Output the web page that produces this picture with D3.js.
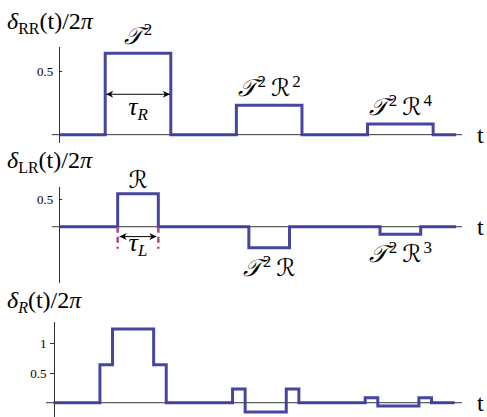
<!DOCTYPE html>
<html lang="en">
<head>
<meta charset="utf-8">
<title>Phase shifts</title>
<script src="https://d3js.org/d3.v7.min.js"></script>
<style>
body { margin: 0; background: #fff; }
text { font-family: "Liberation Serif", "Times New Roman", serif; fill: #000; }
.axis path, .axis line { stroke: #000; stroke-width: 0.8; shape-rendering: crispEdges; }
.axis text { font-size: 13px; font-family: "Liberation Serif", serif; }
.scr { font-family: "DejaVu Serif", "DejaVu Sans", serif; font-style: italic; }
</style>
</head>
<body>
<script>
// step breakpoints (t) and the level that starts at each one
var rrTimes  = [0, 0.7, 1.7, 2.7, 3.7, 4.7, 5.7, 6.05];
var rrValues = [0, 0.64, 0, 0.2304, 0, 0.0829, 0, 0];
var lrTimes  = [0, 0.89, 1.51, 2.89, 3.51, 4.89, 5.51, 6.05];
var lrValues = [0, 0.6, 0, -0.384, 0, -0.138, 0, 0];
var rTimes   = [0, 0.7, 0.89, 1.51, 1.7, 2.7, 2.89, 3.51, 3.7, 4.7, 4.89, 5.51, 5.7, 6.05];
var rValues  = [0, 0.64, 1.24, 0.64, 0, 0.23, -0.154, 0.23, 0, 0.083, -0.055, 0.083, 0, 0];

var rrTicks = [0.5];
var lrTicks = [0.5];
var rTicks  = [0.5, 1];

// pulse labels: t at centre, level, text parts [script, sup] ...
var rrLabels = [
  { t: 1.2, v: 0.64,   parts: [["𝒯", "2"]] },
  { t: 3.2, v: 0.2304, parts: [["𝒯", "2"], ["ℛ", "2"]] },
  { t: 5.2, v: 0.0829, parts: [["𝒯", "2"], ["ℛ", "4"]] }
];
var lrLabels = [
  { t: 1.2, v: 0.6,    parts: [["ℛ", ""]] },
  { t: 3.2, v: -0.384, parts: [["𝒯", "2"], ["ℛ", ""]] },
  { t: 5.2, v: -0.138, parts: [["𝒯", "2"], ["ℛ", "3"]] }
];

var pulseColor = "#3c3c9c";
var dashColor = "#b0457e";

var svg = d3.select("body").append("svg")
  .attr("width", 487)
  .attr("height", 417);

var defs = svg.append("defs");
["arrEnd", "arrStart"].forEach(function(id, i) {
  defs.append("marker")
    .attr("id", id)
    .attr("viewBox", "0 0 10 10")
    .attr("refX", i == 0 ? 10 : 0)
    .attr("refY", 5)
    .attr("markerWidth", 11)
    .attr("markerHeight", 7)
    .attr("markerUnits", "userSpaceOnUse")
    .attr("orient", "auto")
    .append("path")
    .attr("d", i == 0 ? "M0,0 L10,5 L0,10 L3,5 Z" : "M10,0 L0,5 L10,10 L7,5 Z")
    .attr("fill", "#000");
});

var panels = [
  { times: rrTimes, values: rrValues, ticks: rrTicks, labels: rrLabels,
    x: d3.scaleLinear().domain([0, 6.14]).range([59.3, 462]),
    y: d3.scaleLinear().domain([-0.06, 0.69]).range([142.3, 46.8]),
    tickIn: true, titleY: 29, sub: "RR", subItalic: false, labelGap: -9 },
  { times: lrTimes, values: lrValues, ticks: lrTicks, labels: lrLabels,
    x: d3.scaleLinear().domain([0, 6.14]).range([59.3, 462]),
    y: d3.scaleLinear().domain([-1.02, 0.73]).range([282.8, 186.6]),
    tickIn: true, titleY: 168, sub: "LR", subItalic: false, labelGap: -6 },
  { times: rTimes, values: rValues, ticks: rTicks, labels: [],
    x: d3.scaleLinear().domain([0, 6.16]).range([53.5, 462]),
    y: d3.scaleLinear().domain([-0.24, 1.36]).range([417, 321.8]),
    tickIn: false, titleY: 308, sub: "R", subItalic: true, labelGap: 0 }
];

panels.forEach(function(p, k) {
  var g = svg.append("g");
  var x = p.x, y = p.y;

  // y axis
  var yAxis = d3.axisLeft(y)
    .tickValues(p.ticks)
    .tickFormat(d3.format("~g"))
    .tickSizeOuter(0)
    .tickSizeInner(p.tickIn ? -3 : 4)
    .tickPadding(p.tickIn ? 6 : 3);
  g.append("g")
    .attr("class", "axis")
    .attr("transform", "translate(" + x(0) + ",0)")
    .call(yAxis);

  // t axis
  g.append("line")
    .attr("x1", x(0) - 7.5).attr("x2", x.range()[1])
    .attr("y1", y(0)).attr("y2", y(0))
    .attr("stroke", "#000").attr("stroke-width", 0.8);

  g.append("text")
    .attr("x", 477).attr("y", y(0) + 8)
    .attr("font-size", 24)
    .text("t");

  // the step curve
  var pts = p.times.map(function(t, i) { return [t, p.values[i]]; });
  g.append("path")
    .datum(pts)
    .attr("fill", "none")
    .attr("stroke", pulseColor)
    .attr("stroke-width", 3)
    .attr("stroke-opacity", 0.95)
    .attr("d", d3.line()
      .x(function(d) { return x(d[0]); })
      .y(function(d) { return y(d[1]); })
      .curve(d3.curveStepAfter));

  // title
  var title = g.append("text").attr("x", 7).attr("y", p.titleY).attr("font-size", 24);
  title.append("tspan").attr("font-style", "italic").text("δ");
  title.append("tspan").attr("font-size", 16).attr("dy", 5)
    .attr("font-style", p.subItalic ? "italic" : "normal").text(p.sub);
  title.append("tspan").attr("dy", -5).text("(t)/2");
  title.append("tspan").attr("font-style", "italic").text("π");

  // pulse labels
  p.labels.forEach(function(l) {
    var by = l.v >= 0 ? y(l.v) + p.labelGap : y(l.v) + 28;
    var t = g.append("text")
      .attr("x", x(l.t)).attr("y", by)
      .attr("text-anchor", "middle")
      .attr("font-size", 24);
    l.parts.forEach(function(pp, j) {
      t.append("tspan").attr("class", "scr").attr("dx", j > 0 ? 5 : 0).attr("dy", j > 0 ? 9 : 0).text(pp[0]);
      if (pp[1]) t.append("tspan").attr("font-size", 17).attr("dx", 2).attr("dy", -9).text(pp[1]);
      else if (j > 0) t.append("tspan").attr("dy", -9).text("");
    });
  });
});

// width markers
var p1 = panels[0], p2 = panels[1];
svg.append("line")
  .attr("x1", p1.x(rrTimes[1]) + 1).attr("x2", p1.x(rrTimes[2]) - 1)
  .attr("y1", p1.y(0.317)).attr("y2", p1.y(0.317))
  .attr("stroke", "#000").attr("stroke-width", 1)
  .attr("marker-start", "url(#arrStart)").attr("marker-end", "url(#arrEnd)");
var tR = svg.append("text")
  .attr("x", p1.x((rrTimes[1] + rrTimes[2]) / 2)).attr("y", 115)
  .attr("text-anchor", "middle").attr("font-size", 26);
tR.append("tspan").attr("font-style", "italic").text("τ");
tR.append("tspan").attr("font-style", "italic").attr("font-size", 17).attr("dy", 5).text("R");

[lrTimes[1], lrTimes[2]].forEach(function(t) {
  svg.append("line")
    .attr("x1", p2.x(t)).attr("x2", p2.x(t))
    .attr("y1", p2.y(0)).attr("y2", p2.y(-0.4))
    .attr("stroke", dashColor).attr("stroke-width", 2.5)
    .attr("stroke-dasharray", "6,4");
});
svg.append("line")
  .attr("x1", p2.x(lrTimes[1]) + 2).attr("x2", p2.x(lrTimes[2]) - 2)
  .attr("y1", p2.y(-0.18)).attr("y2", p2.y(-0.18))
  .attr("stroke", "#000").attr("stroke-width", 1)
  .attr("marker-start", "url(#arrStart)").attr("marker-end", "url(#arrEnd)");
var tL = svg.append("text")
  .attr("x", p2.x((lrTimes[1] + lrTimes[2]) / 2)).attr("y", 251)
  .attr("text-anchor", "middle").attr("font-size", 26);
tL.append("tspan").attr("font-style", "italic").text("τ");
tL.append("tspan").attr("font-style", "italic").attr("font-size", 17).attr("dy", 5).text("L");
</script>
</body>
</html>
